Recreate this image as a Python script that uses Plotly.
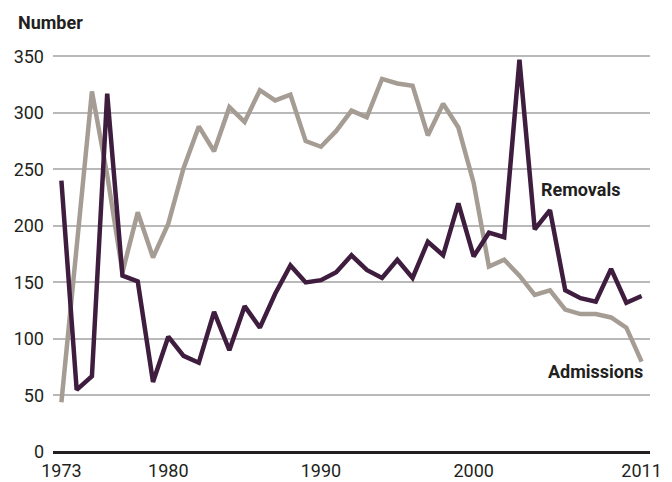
import plotly.graph_objects as go

years = list(range(1973, 2012))
admissions = [44, 180, 319, 245, 159, 212, 172, 202, 251, 288, 266, 305, 292, 320, 311, 316,
              275, 270, 284, 302, 296, 330, 326, 324, 280, 308, 287, 238, 164, 170, 156, 139,
              143, 126, 122, 122, 119, 110, 80]
removals = [240, 55, 67, 317, 156, 151, 62, 102, 85, 79, 124, 90, 129, 110, 140, 165,
            150, 152, 159, 174, 161, 154, 170, 154, 186, 174, 220, 173, 194, 190, 347, 197,
            214, 143, 136, 133, 162, 132, 138]
x_ticks = [1973, 1980, 1990, 2000, 2011]
y_ticks = [0, 50, 100, 150, 200, 250, 300, 350]

FONT = "Roboto, Liberation Sans Narrow, sans-serif"
TXT = "#231f20"

fig = go.Figure()
fig.add_trace(go.Scatter(x=years, y=admissions, mode="lines", name="Admissions",
                         line=dict(color="#a59c94", width=4.5)))
fig.add_trace(go.Scatter(x=years, y=removals, mode="lines", name="Removals",
                         line=dict(color="#3e1d3e", width=4.5)))

fig.update_layout(
    width=672, height=482,
    margin=dict(l=53, r=22, t=45, b=30),
    paper_bgcolor="white", plot_bgcolor="white",
    showlegend=False,
    font=dict(family=FONT, size=18, color=TXT),
    xaxis=dict(range=[1972.45, 2011.55], tickmode="array", tickvals=x_ticks,
               ticktext=[str(t) for t in x_ticks], showgrid=False, zeroline=False,
               showline=False, ticks="", ticklabelstandoff=6, automargin=False,
               tickfont=dict(family=FONT, size=18, color=TXT)),
    yaxis=dict(range=[0, 360], tickmode="array", tickvals=y_ticks,
               ticktext=[str(t) for t in y_ticks], showgrid=True, gridcolor="#b9b9b9",
               gridwidth=1.5, zeroline=True, zerolinecolor="#231f20", zerolinewidth=3,
               showline=False, ticks="", ticklabelstandoff=8, automargin=False,
               tickfont=dict(family=FONT, size=18, color=TXT)),
    annotations=[
        dict(text="<b>Number</b>", xref="paper", yref="paper", x=(16-53)/597, y=(452-22)/407,
             xanchor="left", yanchor="middle", showarrow=False,
             font=dict(family=FONT, size=18, color=TXT)),
        dict(text="<b>Removals</b>", x=2007.0, y=232, xref="x", yref="y", showarrow=False,
             xanchor="center", yanchor="middle", font=dict(family=FONT, size=18, color=TXT)),
        dict(text="<b>Admissions</b>", x=2011.2, y=71, xref="x", yref="y", showarrow=False,
             xanchor="right", yanchor="middle", font=dict(family=FONT, size=18, color=TXT)),
    ],
)

fig.write_html("out.html", config={"displayModeBar": False},
               post_script="document.body.style.margin='0';document.body.style.overflow='hidden';")
